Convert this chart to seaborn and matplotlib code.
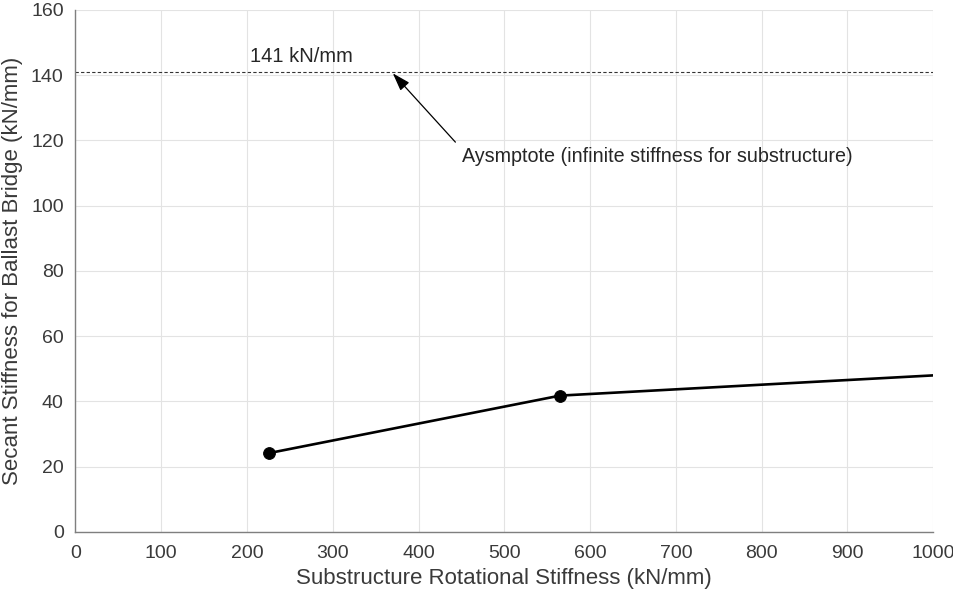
import matplotlib
matplotlib.use("Agg")
import matplotlib.pyplot as plt
import seaborn as sns
import pandas as pd

# Secant stiffness vs. substructure rotational stiffness
rot_stiffness = [226, 565, 1000]
secant_stiffness = [24.2, 41.8, 48.0]
marked_x = [226, 565]
marked_y = [24.2, 41.8]
asymptote_value = 141

x_ticks = list(range(0, 1001, 100))
y_ticks = list(range(0, 161, 20))

sns.set_style("white")
plt.rcParams["font.family"] = ["Liberation Sans", "DejaVu Sans"]

fig = plt.figure(figsize=(9.54, 5.95), dpi=100)
ax = fig.add_axes([0.0791, 0.1059, 0.899, 0.8773])

curve = pd.DataFrame({"k_rot": rot_stiffness, "k_sec": secant_stiffness})
pts = pd.DataFrame({"k_rot": marked_x, "k_sec": marked_y})

sns.lineplot(data=curve, x="k_rot", y="k_sec", ax=ax, color="black",
             linewidth=1.9, zorder=3)
sns.scatterplot(data=pts, x="k_rot", y="k_sec", ax=ax, color="black",
                s=72, edgecolor="black", zorder=4)

ax.axhline(asymptote_value, color="#333333", linestyle=(0, (3, 2)),
           linewidth=0.8, zorder=2)
ax.text(203, asymptote_value + 1.8, f"{asymptote_value} kN/mm",
        fontsize=14.5, color="#262626", ha="left", va="bottom")

# label for the asymptote, with a separate arrow pointing at the dashed line
ax.text(451, 115, "Aysmptote (infinite stiffness for substructure)",
        fontsize=14.2, color="#262626", ha="left", va="center")
ax.annotate("", xy=(370, asymptote_value - 0.4), xytext=(443, 119.5),
            arrowprops=dict(arrowstyle="-|>,head_length=1.1,head_width=0.36",
                            color="black", linewidth=0.9,
                            shrinkA=0, shrinkB=0))

ax.set_xlim(0, 1000)
ax.set_ylim(0, 160)
ax.set_xticks(x_ticks)
ax.set_yticks(y_ticks)
ax.grid(True, color="#e3e3e3", linewidth=0.8)
ax.set_axisbelow(True)

for side in ("top", "right"):
    ax.spines[side].set_visible(False)
for side in ("left", "bottom"):
    ax.spines[side].set_color("#7f7f7f")
    ax.spines[side].set_linewidth(1.0)

ax.tick_params(direction="in", length=5, width=0.8, color="#7f7f7f",
               labelsize=14, labelcolor="#3a3a3a")
ax.tick_params(axis="x", pad=9.5)
ax.tick_params(axis="y", pad=8.5)

ax.set_xlabel("Substructure Rotational Stiffness (kN/mm)", fontsize=16,
              color="#3a3a3a", labelpad=4)
ax.set_ylabel("Secant Stiffness for Ballast Bridge (kN/mm)", fontsize=16,
              color="#3a3a3a", labelpad=6)

fig.savefig("out.png", dpi=100)
